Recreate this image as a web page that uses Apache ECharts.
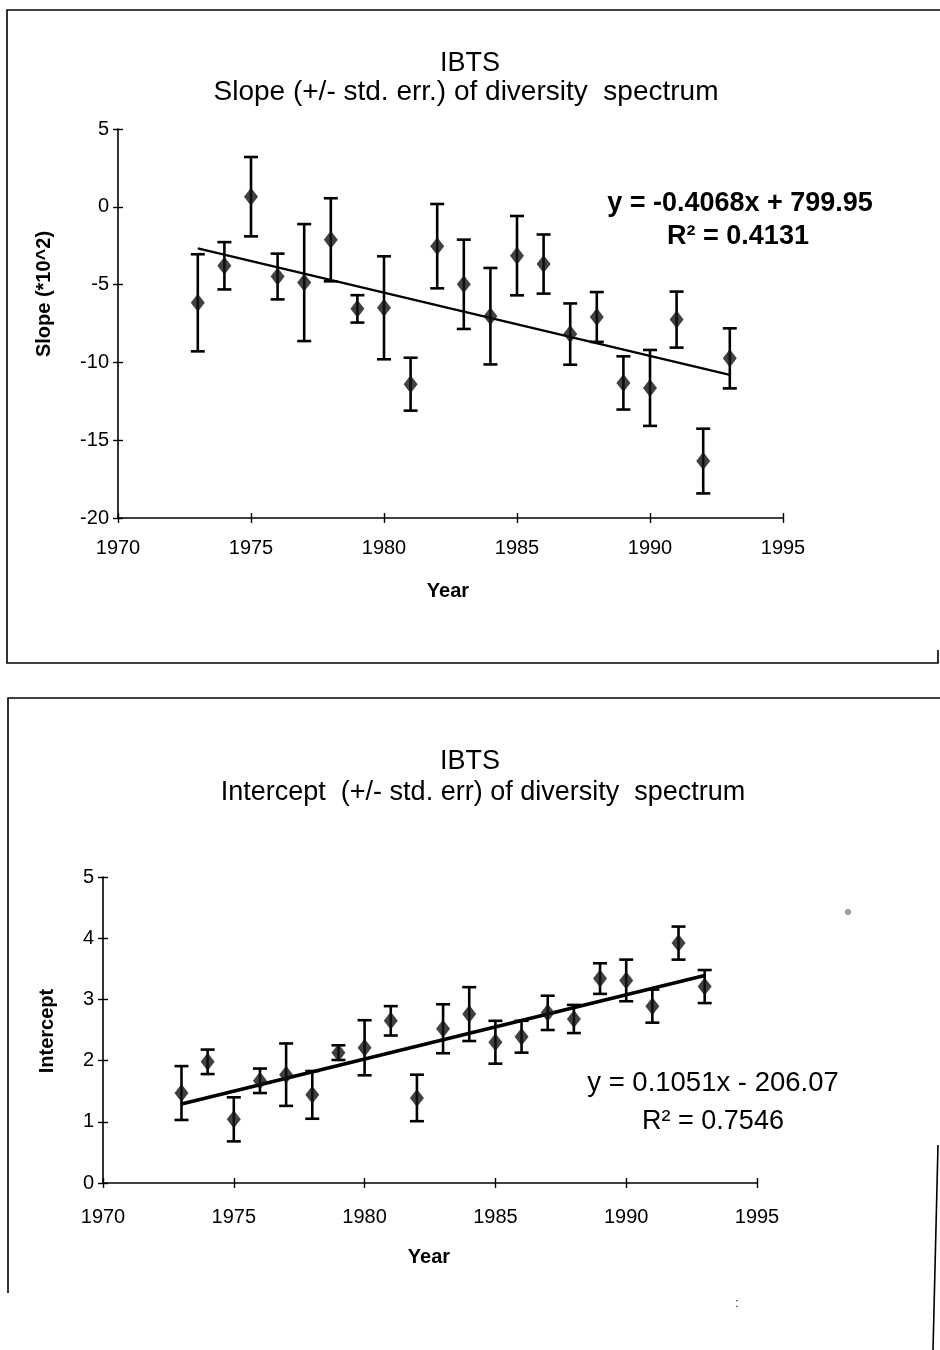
<!DOCTYPE html>
<html>
<head>
<meta charset="utf-8">
<script src="https://cdn.jsdelivr.net/npm/echarts@6/dist/echarts.min.js"></script>
<style>
html,body{margin:0;padding:0;background:#fff;}
#main{width:940px;height:1350px;}
</style>
</head>
<body>
<div id="main"></div>
<script>
// ---- data ----
var years = [1973,1974,1975,1976,1977,1978,1979,1980,1981,1982,1983,1984,1985,1986,1987,1988,1989,1990,1991,1992,1993];
var slopeVals = [-6.17,-3.79,0.65,-4.48,-4.87,-2.12,-6.56,-6.49,-11.4,-2.53,-4.98,-7.03,-3.14,-3.68,-8.18,-7.08,-11.32,-11.64,-7.25,-16.34,-9.74];
var slopeErr  = [3.12,1.52,2.55,1.47,3.76,2.67,0.88,3.31,1.7,2.71,2.87,3.1,2.55,1.9,1.97,1.6,1.71,2.44,1.8,2.08,1.93];
var slopeTrendX = [1973, 1993];
var slopeTrendY = [-2.67, -10.80];
var interceptVals = [1.47,1.98,1.04,1.67,1.77,1.44,2.13,2.21,2.65,1.39,2.52,2.76,2.30,2.39,2.78,2.68,3.34,3.31,2.89,3.92,3.21];
var interceptErr  = [0.44,0.2,0.36,0.2,0.51,0.39,0.12,0.45,0.24,0.38,0.4,0.44,0.35,0.26,0.28,0.23,0.25,0.34,0.27,0.27,0.27];
var interceptTrendX = [1973, 1993];
var interceptTrendY = [1.29, 3.39];
var xTicks = [1970, 1995, 5];
var slopeTicks = [-20, 5, 5];
var interceptTicks = [0, 5, 1];
var titleTop = ['IBTS', 'Slope (+/- std. err.) of diversity  spectrum'];
var titleBottom = ['IBTS', 'Intercept  (+/- std. err) of diversity  spectrum'];
var eqTop = ['y = -0.4068x + 799.95', 'R\u00B2 = 0.4131'];
var eqBottom = ['y = 0.1051x - 206.07', 'R\u00B2 = 0.7546'];

// ---- chart ----
var FONT = 'Liberation Sans, Arial, sans-serif';
var chart = echarts.init(document.getElementById('main'), null, {renderer:'canvas'});

function errData(v, e){ return years.map(function(y,i){ return [y, v[i]-e[i], v[i]+e[i]]; }); }
function ptData(v){ return years.map(function(y,i){ return [y, v[i]]; }); }
function trendData(xs, ys){ return xs.map(function(x,i){ return [x, ys[i]]; }); }

function renderErr(params, api){
  var x = api.value(0), lo = api.value(1), hi = api.value(2);
  var a = api.coord([x, lo]), b = api.coord([x, hi]);
  var w = 7;
  var st = {stroke:'#000', lineWidth:2.6};
  return {type:'group', children:[
    {type:'line', shape:{x1:a[0],y1:a[1],x2:b[0],y2:b[1]}, style:st},
    {type:'line', shape:{x1:a[0]-w,y1:a[1],x2:a[0]+w,y2:a[1]}, style:st},
    {type:'line', shape:{x1:b[0]-w,y1:b[1],x2:b[0]+w,y2:b[1]}, style:st}
  ]};
}

var axLine = {onZero:false, lineStyle:{color:'#000', width:1.6}};
var noLine = {show:false, onZero:false};
var tickOut = {show:true, length:5, lineStyle:{color:'#000', width:1.4}};
var tickIn = {show:true, inside:true, length:5, lineStyle:{color:'#000', width:1.4}};
var lbl = function(m){ return {color:'#000', fontSize:20, fontFamily:FONT, margin:m, formatter:function(v){return String(v);}}; };

function mkX(g, inside, m){
  return {gridIndex:g, type:'value', position:'bottom', min:xTicks[0], max:xTicks[1], interval:xTicks[2],
    axisLine: inside ? noLine : axLine, axisTick: inside ? tickIn : tickOut,
    axisLabel: inside ? {show:false} : lbl(m), splitLine:{show:false}};
}
function mkY(g, t, inside){
  return {gridIndex:g, type:'value', position:'left', min:t[0], max:t[1], interval:t[2],
    axisLine: inside ? noLine : axLine, axisTick: inside ? tickIn : tickOut,
    axisLabel: inside ? {show:false} : lbl(9), splitLine:{show:false}};
}

function txt(x, y, s, size, weight, rot){
  return {type:'text', x:x, y:y, rotation: rot||0, z:10,
    style:{text:s, fill:'#000', font: (weight||'normal') + ' ' + size + 'px ' + FONT, textAlign:'center', textVerticalAlign:'middle'}};
}
function ln(pts, w){
  return {type:'polyline', shape:{points:pts}, style:{stroke:'#000', lineWidth:w||1.5, fill:null}, z:10};
}

var option = {
  animation:false,
  backgroundColor:'#fff',
  grid:[
    {left:118, top:129, width:665, height:389},
    {left:103, top:877, width:654, height:306}
  ],
  xAxis:[ mkX(0,false,20), mkX(1,false,24), mkX(0,true), mkX(1,true) ],
  yAxis:[ mkY(0,slopeTicks,false), mkY(1,interceptTicks,false), mkY(0,slopeTicks,true), mkY(1,interceptTicks,true) ],
  series:[
    {type:'line', xAxisIndex:0, yAxisIndex:0, data:trendData(slopeTrendX, slopeTrendY), symbol:'none',
      lineStyle:{color:'#000', width:2.2}, z:2, silent:true},
    {type:'custom', xAxisIndex:0, yAxisIndex:0, renderItem:renderErr, data:errData(slopeVals, slopeErr),
      encode:{x:0, y:[1,2]}, z:3},
    {type:'scatter', xAxisIndex:0, yAxisIndex:0, data:ptData(slopeVals), symbol:'diamond', symbolSize:[14,18],
      itemStyle:{color:'#111'}, z:4},
    {type:'line', xAxisIndex:1, yAxisIndex:1, data:trendData(interceptTrendX, interceptTrendY), symbol:'none',
      lineStyle:{color:'#000', width:3.6}, z:2, silent:true},
    {type:'custom', xAxisIndex:1, yAxisIndex:1, renderItem:renderErr, data:errData(interceptVals, interceptErr),
      encode:{x:0, y:[1,2]}, z:3},
    {type:'scatter', xAxisIndex:1, yAxisIndex:1, data:ptData(interceptVals), symbol:'diamond', symbolSize:[14,18],
      itemStyle:{color:'#111'}, z:4}
  ],
  graphic:[
    // frames
    ln([[940,10],[7,10],[7,663],[938,663],[938,650]], 1.6),
    ln([[940,698],[8,698],[8,1293]], 1.6),
    ln([[938,1145],[933,1350]], 1.6),
    // top chart texts
    txt(470, 64, titleTop[0], 27),
    txt(466, 92, titleTop[1], 28),
    txt(740, 204, eqTop[0], 27, 'bold'),
    txt(738, 237, eqTop[1], 27, 'bold'),
    txt(448, 591, 'Year', 20, 'bold'),
    txt(44, 294, 'Slope (*10^2)', 20, 'bold', Math.PI/2),
    // bottom chart texts
    txt(470, 762, titleBottom[0], 27),
    txt(483, 793, titleBottom[1], 27),
    txt(713, 1083, eqBottom[0], 27.5),
    txt(713, 1122, eqBottom[1], 27),
    txt(429, 1257, 'Year', 20, 'bold'),
    txt(47, 1031, 'Intercept', 20, 'bold', Math.PI/2),
    txt(737, 1304, ':', 12),
    {type:'circle', shape:{cx:848, cy:912, r:3}, style:{fill:'#999'}, z:10}
  ]
};
chart.setOption(option);
</script>
</body>
</html>
